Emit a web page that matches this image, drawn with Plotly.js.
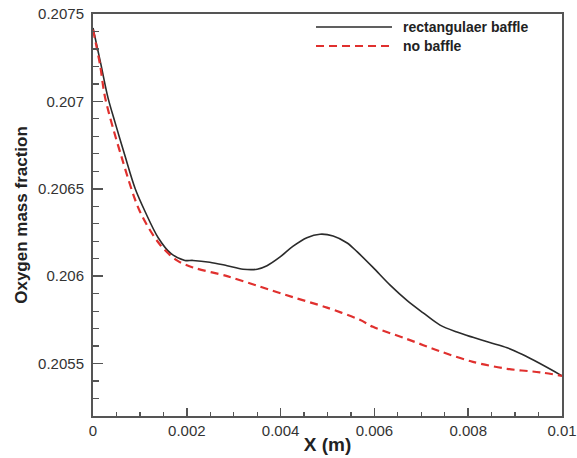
<!DOCTYPE html>
<html>
<head>
<meta charset="utf-8">
<script src="https://cdn.plot.ly/plotly-3.0.1.min.js"></script>
<style>html,body{margin:0;padding:0;background:#fff;}#chart{width:577px;height:458px;}</style>
</head>
<body>
<div id="chart"></div>
<script>
// Series names
const seriesNames = ["rectangulaer baffle", "no baffle"];

// rectangulaer baffle
const baffleX = [0, 0.00017, 0.00032, 0.00047, 0.00068, 0.00090, 0.00111, 0.00139, 0.00166, 0.00196, 0.00213, 0.00249, 0.00286, 0.00320, 0.00350, 0.00371, 0.00399, 0.00426, 0.00456, 0.00484, 0.00512, 0.00542, 0.00563, 0.00597, 0.00633, 0.00670, 0.00704, 0.00740, 0.00776, 0.00810, 0.00846, 0.00883, 0.00917, 0.00953, 0.01];
const baffleY = [0.20742, 0.20721, 0.20702, 0.20688, 0.20669, 0.20650, 0.20637, 0.20622, 0.20613, 0.20609, 0.20609, 0.20608, 0.20606, 0.20604, 0.20604, 0.20606, 0.20611, 0.20617, 0.20622, 0.20624, 0.20623, 0.20619, 0.20614, 0.20605, 0.20595, 0.20586, 0.20579, 0.20572, 0.20568, 0.20565, 0.20562, 0.20559, 0.20555, 0.20550, 0.20543];

// no baffle
const noBaffleX = [0, 0.00015, 0.00026, 0.00060, 0.00100, 0.00143, 0.00179, 0.00213, 0.00286, 0.00356, 0.00426, 0.00499, 0.00569, 0.00597, 0.00670, 0.00740, 0.00810, 0.00883, 0.00953, 0.01];
const noBaffleY = [0.20741, 0.20721, 0.20702, 0.20669, 0.20637, 0.20618, 0.20609, 0.20605, 0.20600, 0.20594, 0.20588, 0.20582, 0.20575, 0.20571, 0.20564, 0.20557, 0.20551, 0.20547, 0.20545, 0.20543];

// Tick labels
const xTickVals = [0, 0.002, 0.004, 0.006, 0.008, 0.01];
const xTickText = ["0", "0.002", "0.004", "0.006", "0.008", "0.01"];
const yTickVals = [0.2055, 0.206, 0.2065, 0.207, 0.2075];
const yTickText = ["0.2055", "0.206", "0.2065", "0.207", "0.2075"];

const FONT = "Liberation Sans, Arial, sans-serif";
const BLACK = "#2b2b2b";
const RED = "#e0302e";

const traces = [
  {x: baffleX, y: baffleY, name: seriesNames[0], mode: "lines", line: {color: BLACK, width: 1.6, shape: "spline", smoothing: 0.9}, showlegend: false},
  {x: noBaffleX, y: noBaffleY, name: seriesNames[1], mode: "lines", line: {color: RED, width: 2.2, dash: "8px,5px", shape: "spline", smoothing: 0.9}, showlegend: false}
];

const axisCommon = {
  showgrid: false, zeroline: false, showline: true, linecolor: "#555", linewidth: 2, mirror: true,
  ticks: "inside", tickcolor: "#555", tickwidth: 1.5,
  tickfont: {family: FONT, size: 15, color: "#333"}
};

const layout = {
  width: 577, height: 458,
  margin: {l: 93, r: 15, t: 14, b: 42},
  paper_bgcolor: "#fff", plot_bgcolor: "#fff",
  xaxis: Object.assign({}, axisCommon, {
    range: [0, 0.01], tickmode: "array", tickvals: xTickVals, ticktext: xTickText, ticklen: 8,
    minor: {dtick: 0.0005, ticks: "inside", ticklen: 4, tickcolor: "#555", tickwidth: 1.2},
    title: {text: "X (m)", font: {family: FONT, size: 19, color: "#222", weight: "bold"}, standoff: 0}
  }),
  yaxis: Object.assign({}, axisCommon, {
    range: [0.2052, 0.2075], tickmode: "array", tickvals: yTickVals, ticktext: yTickText, ticklen: 10,
    ticklabelstandoff: 4,
    minor: {dtick: 0.0001, ticks: "inside", ticklen: 6, tickcolor: "#555", tickwidth: 1.2},
    title: {text: "Oxygen mass fraction", font: {family: FONT, size: 17, color: "#222", weight: "bold"}, standoff: 6}
  }),
  shapes: [
    {type: "line", xref: "paper", yref: "paper", x0: 0.4755, x1: 0.6375, y0: 0.9677, y1: 0.9677, line: {color: BLACK, width: 1.6}},
    {type: "line", xref: "paper", yref: "paper", x0: 0.4755, x1: 0.6375, y0: 0.9204, y1: 0.9204, line: {color: RED, width: 2.2, dash: "8px,5px"}}
  ],
  annotations: [
    {xref: "paper", yref: "paper", x: 0.661, y: 0.9677, xanchor: "left", yanchor: "middle", xshift: -2, showarrow: false, text: "<b>" + seriesNames[0] + "</b>", font: {family: FONT, size: 14, color: "#222"}},
    {xref: "paper", yref: "paper", x: 0.661, y: 0.9204, xanchor: "left", yanchor: "middle", xshift: -2, showarrow: false, text: "<b>" + seriesNames[1] + "</b>", font: {family: FONT, size: 14, color: "#222"}}
  ]
};

Plotly.newPlot("chart", traces, layout, {displayModeBar: false, staticPlot: true});
</script>
</body>
</html>
